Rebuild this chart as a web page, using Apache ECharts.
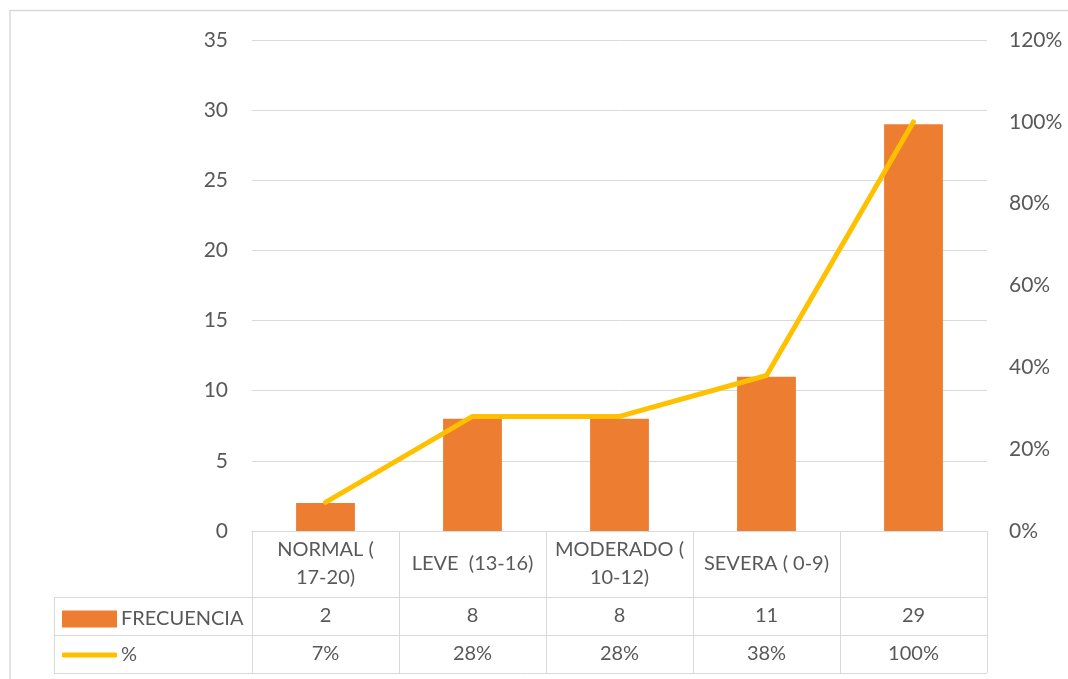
<!DOCTYPE html>
<html>
<head>
<meta charset="utf-8">
<script src="https://cdn.jsdelivr.net/npm/echarts@6/dist/echarts.min.js"></script>
<style>
html,body{margin:0;padding:0;background:#fff;}
#chart{width:1068px;height:679px;}
</style>
</head>
<body>
<div id="chart"></div>
<script>
const categories = ['NORMAL (\n17-20)', 'LEVE  (13-16)', 'MODERADO (\n10-12)', 'SEVERA ( 0-9)', ''];
const frecuencia = [2, 8, 8, 11, 29];
const porcentaje = [0.07, 0.28, 0.28, 0.38, 1.00];
const leftTicks = { min: 0, max: 35, interval: 5 };
const rightTicks = { min: 0, max: 1.2, interval: 0.2 };

const FONT = 'Lato';
const GRAY = '#595959';
const LINE = '#d9d9d9';
const TFS = 20;

const chart = echarts.init(document.getElementById('chart'));
const option = {
  backgroundColor: '#fff',
  animation: false,
  textStyle: { fontFamily: FONT },
  grid: { left: 252, right: 81, top: 40, bottom: 148 },
  legend: [
    {
      left: 62, top: 609, padding: 0,
      itemWidth: 55, itemHeight: 17,
      textStyle: { fontFamily: FONT, fontSize: TFS, color: GRAY, padding: [0, 0, 0, -1] },
      data: [{ name: 'FRECUENCIA', icon: 'rect' }]
    },
    {
      left: 62, top: 645, padding: 0,
      itemWidth: 55, itemHeight: 5,
      textStyle: { fontFamily: FONT, fontSize: TFS, color: GRAY, padding: [0, 0, 0, -1] },
      data: [{ name: '%', icon: 'roundRect', itemStyle: { color: '#FFC000' } }]
    }
  ],
  xAxis: [
    {
      type: 'category', data: categories, position: 'bottom',
      axisLine: { show: true, lineStyle: { color: LINE, width: 1 } },
      axisTick: { show: true, length: 142, lineStyle: { color: LINE, width: 1 } },
      axisLabel: { margin: 33, verticalAlign: 'middle', fontSize: TFS, lineHeight: 28, color: GRAY, fontFamily: FONT, interval: 0 }
    },
    {
      type: 'category', data: categories, position: 'bottom',
      axisLine: { show: false }, axisTick: { show: false },
      axisLabel: { margin: 85, verticalAlign: 'middle', fontSize: TFS, color: GRAY, fontFamily: FONT, interval: 0,
        formatter: (v, i) => String(frecuencia[i]) }
    },
    {
      type: 'category', data: categories, position: 'bottom',
      axisLine: { show: false }, axisTick: { show: false },
      axisLabel: { margin: 123, verticalAlign: 'middle', fontSize: TFS, color: GRAY, fontFamily: FONT, interval: 0,
        formatter: (v, i) => Math.round(porcentaje[i] * 100) + '%' }
    }
  ],
  yAxis: [
    {
      type: 'value', min: leftTicks.min, max: leftTicks.max, interval: leftTicks.interval,
      axisLine: { show: false }, axisTick: { show: false },
      splitLine: { lineStyle: { color: LINE, width: 1 } },
      axisLabel: { margin: 24, fontSize: 21, color: GRAY, fontFamily: FONT }
    },
    {
      type: 'value', min: rightTicks.min, max: rightTicks.max, interval: rightTicks.interval,
      axisLine: { show: false }, axisTick: { show: false }, splitLine: { show: false },
      axisLabel: { margin: 22, fontSize: 21, color: GRAY, fontFamily: FONT,
        formatter: v => Math.round(v * 100) + '%' }
    }
  ],
  series: [
    {
      name: 'FRECUENCIA', type: 'bar', data: frecuencia, barWidth: '40%',
      itemStyle: { color: '#ED7D31' }
    },
    {
      name: '%', type: 'line', yAxisIndex: 1, data: porcentaje,
      symbol: 'none', showSymbol: false,
      lineStyle: { color: '#FFC000', width: 5, cap: 'round', join: 'round' },
      itemStyle: { color: '#FFC000' }
    }
  ],
  graphic: [
    { type: 'rect', shape: { x: 10, y: 10.5, width: 1100, height: 700 }, style: { fill: 'none', stroke: LINE, lineWidth: 1.5 }, silent: true },
    { type: 'line', shape: { x1: 54, y1: 597.5, x2: 987, y2: 597.5 }, style: { stroke: LINE, lineWidth: 1 } },
    { type: 'line', shape: { x1: 54, y1: 635.5, x2: 987, y2: 635.5 }, style: { stroke: LINE, lineWidth: 1 } },
    { type: 'line', shape: { x1: 54, y1: 673.5, x2: 987, y2: 673.5 }, style: { stroke: LINE, lineWidth: 1 } },
    { type: 'line', shape: { x1: 54.5, y1: 597, x2: 54.5, y2: 674 }, style: { stroke: LINE, lineWidth: 1 } }
  ]
};
chart.setOption(option);
</script>
</body>
</html>
